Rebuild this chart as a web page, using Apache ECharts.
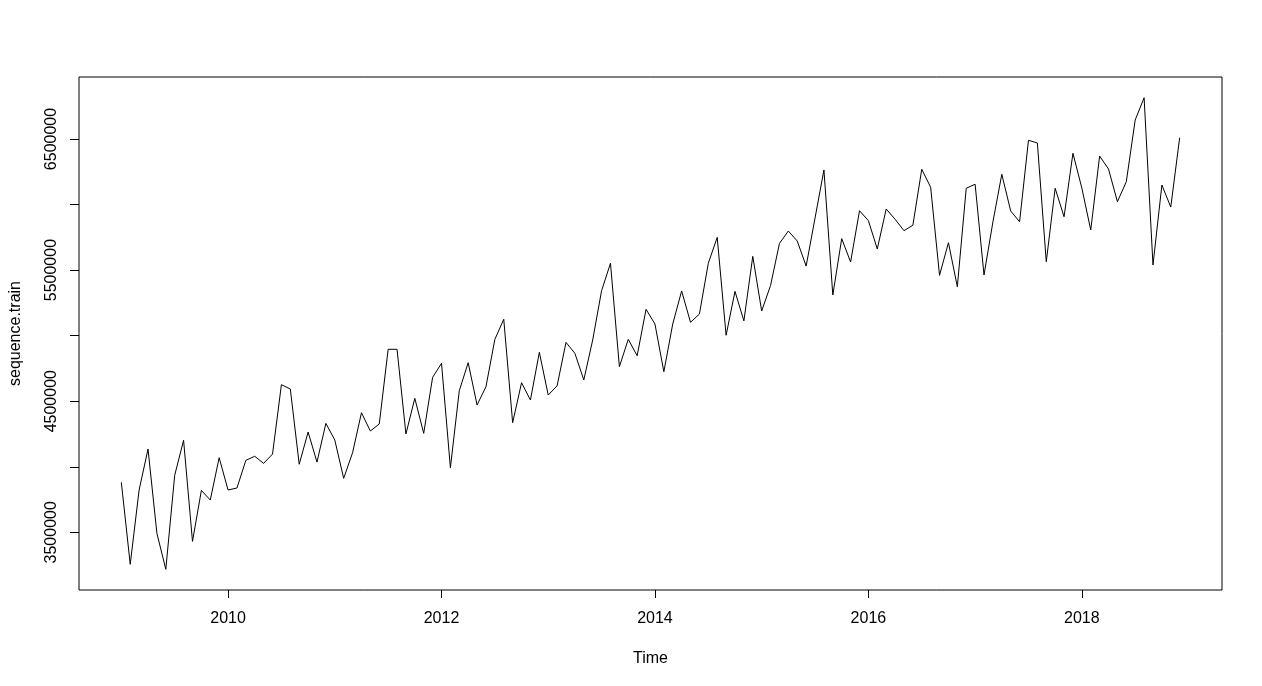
<!DOCTYPE html>
<html>
<head>
<meta charset="utf-8">
<script src="https://cdn.jsdelivr.net/npm/echarts@6/dist/echarts.min.js"></script>
<style>
html,body{margin:0;padding:0;background:#fff;}
#chart{width:1262px;height:686px;}
</style>
</head>
<body>
<div id="chart"></div>
<script>
// Monthly series, Jan 2009 .. Dec 2018
const startYear = 2009;
const periodsPerYear = 12;
const values = [
  3881000, 3256000, 3823000, 4135000, 3492000, 3218000, 3935000, 4202000, 3431000, 3820000, 3746000, 4069000,
  3823000, 3838000, 4049000, 4080000, 4026000, 4097000, 4626000, 4593000, 4019000, 4265000, 4036000, 4331000,
  4204000, 3912000, 4107000, 4412000, 4273000, 4326000, 4896000, 4896000, 4250000, 4522000, 4255000, 4682000,
  4789000, 3993000, 4580000, 4794000, 4471000, 4611000, 4972000, 5125000, 4336000, 4641000, 4509000, 4873000,
  4547000, 4618000, 4949000, 4865000, 4662000, 4967000, 5343000, 5552000, 4763000, 4972000, 4847000, 5201000,
  5089000, 4725000, 5089000, 5341000, 5102000, 5165000, 5552000, 5750000, 5003000, 5338000, 5113000, 5605000,
  5188000, 5383000, 5704000, 5798000, 5722000, 5531000, 5897000, 6264000, 5310000, 5740000, 5562000, 5953000,
  5877000, 5661000, 5966000, 5888000, 5801000, 5842000, 6269000, 6132000, 5460000, 5709000, 5373000, 6124000,
  6155000, 5463000, 5867000, 6231000, 5951000, 5869000, 6490000, 6470000, 5564000, 6124000, 5907000, 6391000,
  6126000, 5806000, 6370000, 6271000, 6022000, 6174000, 6645000, 6815000, 5539000, 6149000, 5981000, 6510000
];
const xTickValues = [2010, 2012, 2014, 2016, 2018];
const yTickValues = [3500000, 4000000, 4500000, 5000000, 5500000, 6000000, 6500000];
const yLabelValues = [3500000, 4500000, 5500000, 6500000];
const xTitle = 'Time';
const yTitle = 'sequence.train';

const seriesData = values.map((v, i) => [startYear + i / periodsPerYear, v]);

const font = 'Liberation Sans, Arial, sans-serif';
const chart = echarts.init(document.getElementById('chart'), null, {renderer: 'canvas'});
chart.setOption({
  animation: false,
  backgroundColor: '#ffffff',
  grid: {
    left: 78, right: 40, top: 77, bottom: 96,
    show: true, borderColor: '#000', borderWidth: 1, backgroundColor: 'transparent'
  },
  xAxis: {
    type: 'value',
    min: 2008.6033, max: 2019.3133,
    name: xTitle, nameLocation: 'middle', nameGap: 61,
    nameTextStyle: {color: '#000', fontSize: 16, fontFamily: font},
    axisLine: {show: false},
    splitLine: {show: false},
    axisTick: {show: true, inside: false, length: 8, lineStyle: {color: '#000', width: 1}, customValues: xTickValues},
    axisLabel: {show: true, margin: 21, color: '#000', fontSize: 16, fontFamily: font, customValues: xTickValues,
      formatter: v => String(v)}
  },
  yAxis: {
    type: 'value',
    min: 3060000, max: 6973000,
    name: yTitle, nameLocation: 'middle', nameGap: 55, nameRotate: 90,
    nameTextStyle: {color: '#000', fontSize: 16, fontFamily: font},
    axisLine: {show: false},
    splitLine: {show: false},
    axisTick: {show: true, inside: false, length: 9, lineStyle: {color: '#000', width: 1}, customValues: yTickValues},
    axisLabel: {show: true, rotate: 90, margin: 19, color: '#000', fontSize: 16, fontFamily: font, customValues: yLabelValues,
      formatter: v => String(v)}
  },
  series: [{
    type: 'line',
    data: seriesData,
    showSymbol: false,
    symbol: 'none',
    lineStyle: {color: '#000', width: 1},
    itemStyle: {color: '#000'}
  }]
});
</script>
</body>
</html>
